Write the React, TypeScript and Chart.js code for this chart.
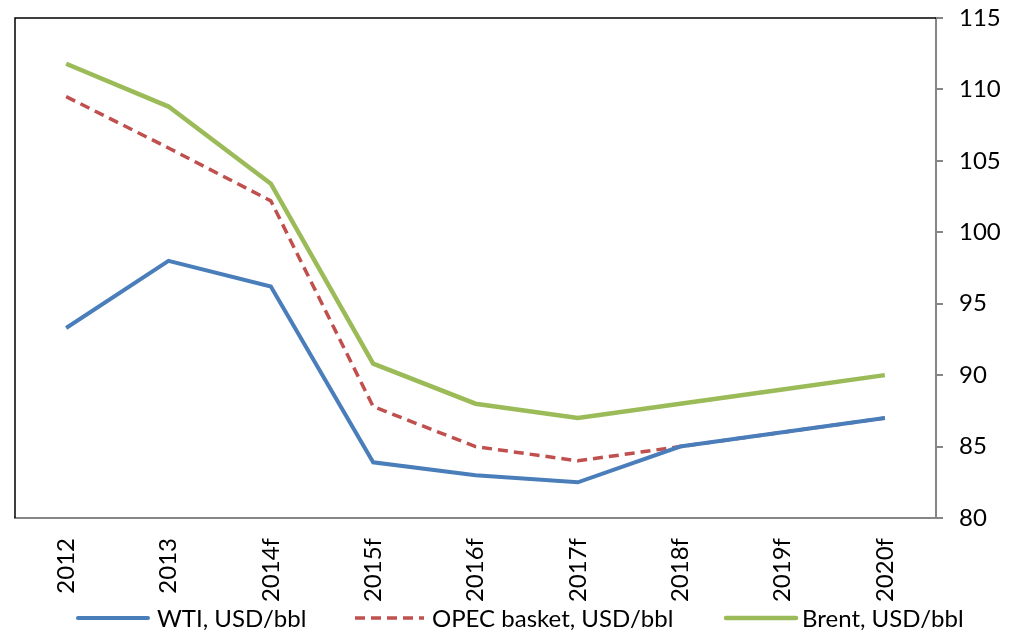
import React, { useEffect, useRef } from "react";
import { Chart, registerables } from "chart.js";

Chart.register(...registerables);

// Oil price history and forecast, USD per barrel
const CATEGORIES = ["2012", "2013", "2014f", "2015f", "2016f", "2017f", "2018f", "2019f", "2020f"];
const WTI = [93.3, 98.0, 96.2, 83.9, 83.0, 82.5, 85.0, 86.0, 87.0];
const OPEC_BASKET = [109.5, 105.9, 102.2, 87.8, 85.0, 84.0, 85.0, 86.0, 87.0];
const BRENT = [111.8, 108.8, 103.4, 90.8, 88.0, 87.0, 88.0, 89.0, 90.0];

const Y_MIN = 80;
const Y_MAX = 115;
const Y_STEP = 5;

const SERIES_LABELS = ["WTI, USD/bbl", "OPEC basket, USD/bbl", "Brent, USD/bbl"];
const SERIES_COLORS = ["#4A7EBB", "#C0504D", "#9BBB59"];

const FONT_FAMILY = "Lato, 'Open Sans', sans-serif";
const FONT_SIZE = 24;
const AXIS_GRAY = "#868686";

// Frame: black left and top edges of the plot area
const framePlugin = {
  id: "plotFrame",
  beforeDatasetsDraw(chart: any) {
    const { ctx, chartArea } = chart;
    ctx.save();
    ctx.strokeStyle = "#000000";
    ctx.lineWidth = 1.5;
    ctx.beginPath();
    ctx.moveTo(chartArea.left, chartArea.bottom);
    ctx.lineTo(chartArea.left, chartArea.top);
    ctx.lineTo(chartArea.right, chartArea.top);
    ctx.stroke();
    ctx.restore();
  },
};

// Legend along the bottom, one line sample per series
const legendPlugin = {
  id: "bottomLegend",
  afterDraw(chart: any) {
    const { ctx } = chart;
    const items = [
      { x0: 78, x1: 148, textX: 157 },
      { x0: 355, x1: 424, textX: 432 },
      { x0: 726, x1: 796, textX: 802 },
    ];
    const y = 618;
    ctx.save();
    ctx.font = `${FONT_SIZE}px ${FONT_FAMILY}`;
    ctx.textBaseline = "middle";
    ctx.textAlign = "left";
    chart.data.datasets.forEach((ds: any, i: number) => {
      const it = items[i];
      ctx.beginPath();
      ctx.strokeStyle = ds.borderColor;
      ctx.lineWidth = ds.borderWidth;
      ctx.lineCap = ds.borderDash && ds.borderDash.length ? "butt" : "round";
      ctx.setLineDash(ds.borderDash || []);
      ctx.moveTo(it.x0, y);
      ctx.lineTo(it.x1, y);
      ctx.stroke();
      ctx.setLineDash([]);
      ctx.fillStyle = "#000000";
      ctx.fillText(ds.label, it.textX, y + 1);
    });
    ctx.restore();
  },
};

export default function App() {
  const canvasRef = useRef<HTMLCanvasElement | null>(null);

  useEffect(() => {
    document.body.style.margin = "0";
    const canvas = canvasRef.current;
    if (!canvas) return;

    const chart = new Chart(canvas, {
      type: "line",
      data: {
        labels: CATEGORIES,
        datasets: [
          {
            label: SERIES_LABELS[0],
            data: WTI,
            borderColor: SERIES_COLORS[0],
            borderWidth: 4,
            pointRadius: 0,
            tension: 0,
            fill: false,
          },
          {
            label: SERIES_LABELS[1],
            data: OPEC_BASKET,
            borderColor: SERIES_COLORS[1],
            borderWidth: 3.5,
            borderDash: [10, 6],
            pointRadius: 0,
            tension: 0,
            fill: false,
          },
          {
            label: SERIES_LABELS[2],
            data: BRENT,
            borderColor: SERIES_COLORS[2],
            borderWidth: 4.5,
            pointRadius: 0,
            tension: 0,
            fill: false,
          },
        ],
      },
      options: {
        animation: false,
        responsive: true,
        maintainAspectRatio: false,
        layout: { padding: { left: 15, top: 18, right: 0, bottom: 0 } },
        plugins: {
          legend: { display: false },
          tooltip: { enabled: false },
        },
        scales: {
          x: {
            type: "category",
            offset: true,
            grid: { drawOnChartArea: false, drawTicks: false },
            border: { display: true, color: AXIS_GRAY, width: 2 },
            ticks: {
              minRotation: 90,
              maxRotation: 90,
              padding: 20,
              color: "#000000",
              font: { family: FONT_FAMILY, size: FONT_SIZE },
            },
            afterFit(scale: any) {
              scale.height = 112;
            },
          },
          y: {
            position: "right",
            min: Y_MIN,
            max: Y_MAX,
            ticks: {
              stepSize: Y_STEP,
              padding: 16,
              color: "#000000",
              font: { family: FONT_FAMILY, size: FONT_SIZE },
            },
            grid: {
              drawOnChartArea: false,
              drawTicks: true,
              tickLength: 7,
              color: AXIS_GRAY,
              lineWidth: 2,
            },
            border: { display: true, color: AXIS_GRAY, width: 2 },
            afterFit(scale: any) {
              scale.width = 76;
              scale.paddingTop = 0;
              scale.paddingBottom = 0;
            },
          },
        },
      },
      plugins: [framePlugin, legendPlugin],
    });

    return () => chart.destroy();
  }, []);

  return (
    <div style={{ width: 1012, height: 630, position: "relative", background: "#ffffff" }}>
      <canvas ref={canvasRef} />
    </div>
  );
}
